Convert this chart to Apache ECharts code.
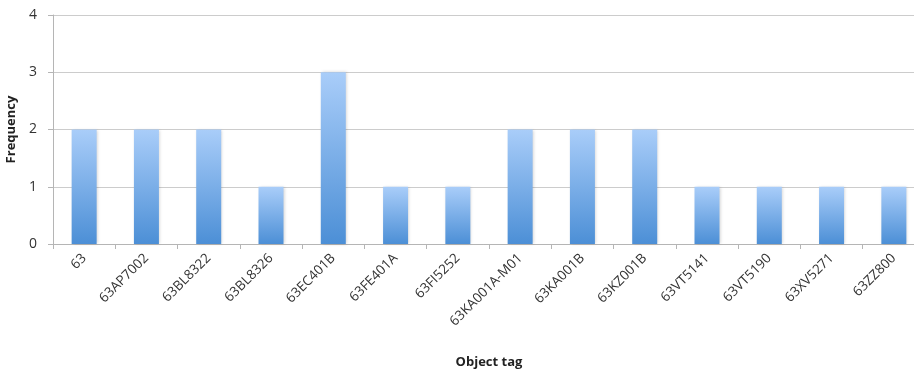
<!DOCTYPE html>
<html>
<head>
<meta charset="utf-8">
<script src="https://cdn.jsdelivr.net/npm/echarts@6/dist/echarts.min.js"></script>
<style>
  html, body { margin: 0; padding: 0; background: #fff; }
  #chart { width: 914px; height: 371px; }
</style>
</head>
<body>
<div id="chart"></div>
<script>
// Object tags and how often each one occurs
const categories = ['63', '63AP7002', '63BL8322', '63BL8326', '63EC401B', '63FE401A', '63FI5252',
  '63KA001A-M01', '63KA001B', '63KZ001B', '63VT5141', '63VT5190', '63XV5271', '63ZZ800'];
const frequency = [2, 2, 2, 1, 3, 1, 1, 2, 2, 2, 1, 1, 1, 1];
const yTicks = [0, 1, 2, 3, 4];

const chart = echarts.init(document.getElementById('chart'), null, { renderer: 'canvas' });
const font = '"Open Sans", "Liberation Sans", sans-serif';

chart.setOption({
  animation: false,
  // plot area runs a little past the right edge of the canvas
  grid: { left: 53, top: 15, right: -11, height: 229, containLabel: false, outerBoundsMode: 'none' },
  xAxis: {
    type: 'category',
    data: categories,
    name: 'Object tag',
    nameLocation: 'middle',
    nameGap: 112,
    nameTextStyle: { fontFamily: font, fontWeight: 'bold', fontSize: 13, color: '#222' },
    axisLine: { lineStyle: { color: '#b5b5b5', width: 1 } },
    axisTick: { show: true, length: 5, lineStyle: { color: '#b5b5b5' } },
    axisLabel: {
      rotate: 45, fontFamily: font, fontSize: 13.5, color: '#333', margin: 12
    }
  },
  yAxis: {
    type: 'value',
    min: yTicks[0],
    max: yTicks[yTicks.length - 1],
    interval: 1,
    name: 'Frequency',
    nameLocation: 'middle',
    nameGap: 29,
    nameRotate: 90,
    nameTextStyle: { fontFamily: font, fontWeight: 'bold', fontSize: 13, color: '#222' },
    axisLine: { show: true, lineStyle: { color: '#b5b5b5', width: 1 } },
    axisTick: { show: true, length: 5, inside: false, lineStyle: { color: '#b5b5b5' } },
    axisLabel: { fontFamily: font, fontSize: 14, color: '#333', margin: 16 },
    splitLine: { lineStyle: { color: '#cccccc', width: 1 } }
  },
  series: [{
    type: 'bar',
    data: frequency,
    barWidth: 25,
    itemStyle: {
      color: new echarts.graphic.LinearGradient(0, 0, 0, 1, [
        { offset: 0, color: '#a9cdf9' },
        { offset: 1, color: '#4c8fd6' }
      ]),
      shadowColor: 'rgba(0,0,0,0.18)',
      shadowBlur: 3,
      shadowOffsetX: 1,
      shadowOffsetY: 0
    }
  }]
});
</script>
</body>
</html>
